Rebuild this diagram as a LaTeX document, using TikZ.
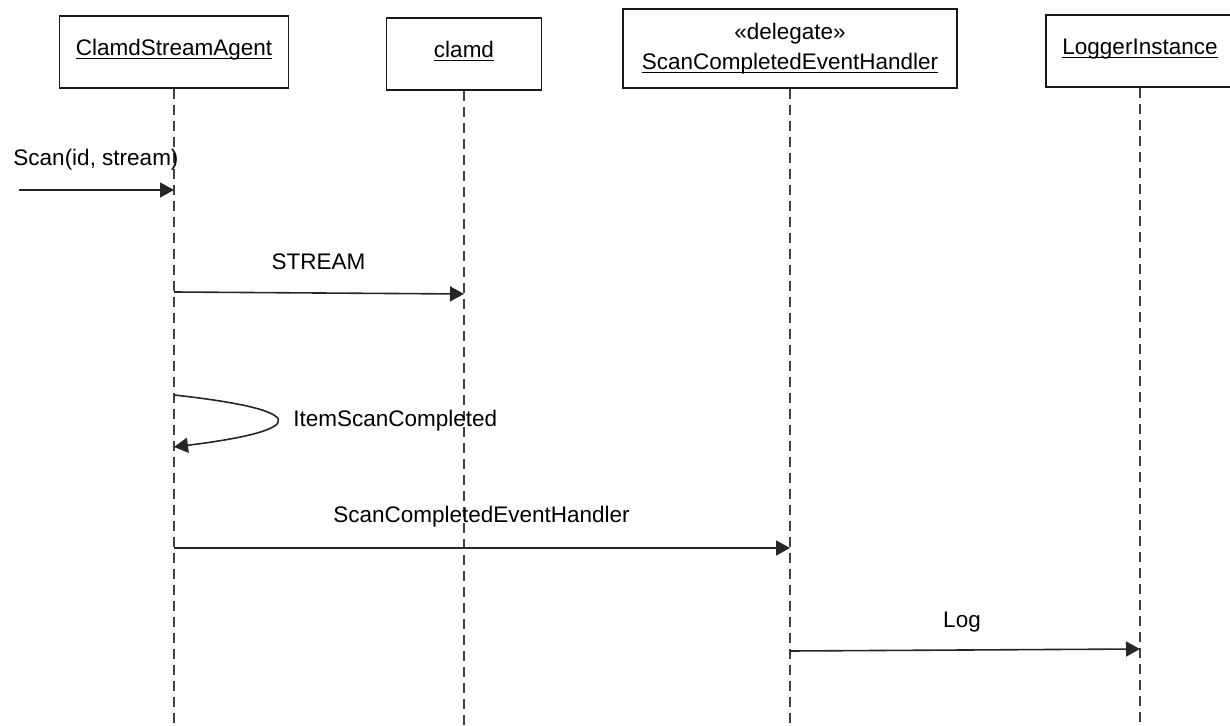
\documentclass[tikz,border=0pt]{standalone}
\usepackage{fontspec}
\setmainfont{Liberation Sans}
\usetikzlibrary{arrows.meta}
% underlined object name with a fixed-depth line
\newcommand\objname[1]{\underline{\smash{#1}}\vphantom{g}}
\begin{document}
\begin{tikzpicture}[x=0.5pt,y=-0.5pt,
  font=\fontsize{11.25}{15}\selectfont,
  obj/.style={draw=black!90, line width=0.9pt, inner sep=0pt, align=center, text=black},
  life/.style={draw=black!75, line width=0.9pt, dash pattern=on 5pt off 3pt},
  msg/.style={draw=black!85, line width=0.8pt, -{Triangle[length=7pt,width=7.5pt]}},
  lbl/.style={anchor=base, inner sep=0pt, text=black}]
\useasboundingbox (0,0) rectangle (1230,726);
\clip (0,0) rectangle (1230,726);

% participants
\node[obj, minimum width=114.5pt, minimum height=36pt] (agent) at (174,52) {\objname{ClamdStreamAgent}};
\node[obj, minimum width=77.5pt, minimum height=36pt] (clamd) at (464,54) {\objname{clamd}};
\node[obj, minimum width=167pt, minimum height=39.5pt] (handler) at (790,48.5) {«delegate»\\\objname{ScanCompletedEventHandler}};
\node[obj, minimum width=94pt, minimum height=36pt] (logger) at (1140,51) {\objname{LoggerInstance}};

% lifelines
\coordinate (bot) at (0,730);
\draw[life] (agent.south) -- (agent.south |- bot);
\draw[life] (clamd.south) -- (clamd.south |- bot);
\draw[life] (handler.south) -- (handler.south |- bot);
\draw[life] (logger.south) -- (logger.south |- bot);

% message anchors on the lifelines
\coordinate (y1) at (0,190);
\coordinate (y2a) at (0,292);
\coordinate (y2b) at (0,294);
\coordinate (y3a) at (0,395);
\coordinate (y3b) at (0,447);
\coordinate (y4) at (0,548);
\coordinate (y5a) at (0,651);
\coordinate (y5b) at (0,649);
\coordinate (entry) at (19,190);

% Scan(id, stream)
\draw[msg] (entry) -- (agent.south |- y1);
\node[lbl] (lscan) at (96,166) {Scan(id, stream)};

% STREAM
\draw[msg] (agent.south |- y2a) -- (clamd.south |- y2b);
\node[lbl] (lstream) at (318.5,270) {STREAM};

% ItemScanCompleted (self call)
\draw[msg] (agent.south |- y3a) .. controls +(137,15) and +(137,-17) .. (agent.south |- y3b);
\node[lbl, anchor=base west] (litem) at (293,427) {ItemScanCompleted};

% ScanCompletedEventHandler
\draw[msg] (agent.south |- y4) -- (handler.south |- y4);
\node[lbl] (lhandler) at (481.5,523) {ScanCompletedEventHandler};

% Log
\draw[msg] (handler.south |- y5a) -- (logger.south |- y5b);
\node[lbl] (llog) at (962,627) {Log};
\end{tikzpicture}
\end{document}
